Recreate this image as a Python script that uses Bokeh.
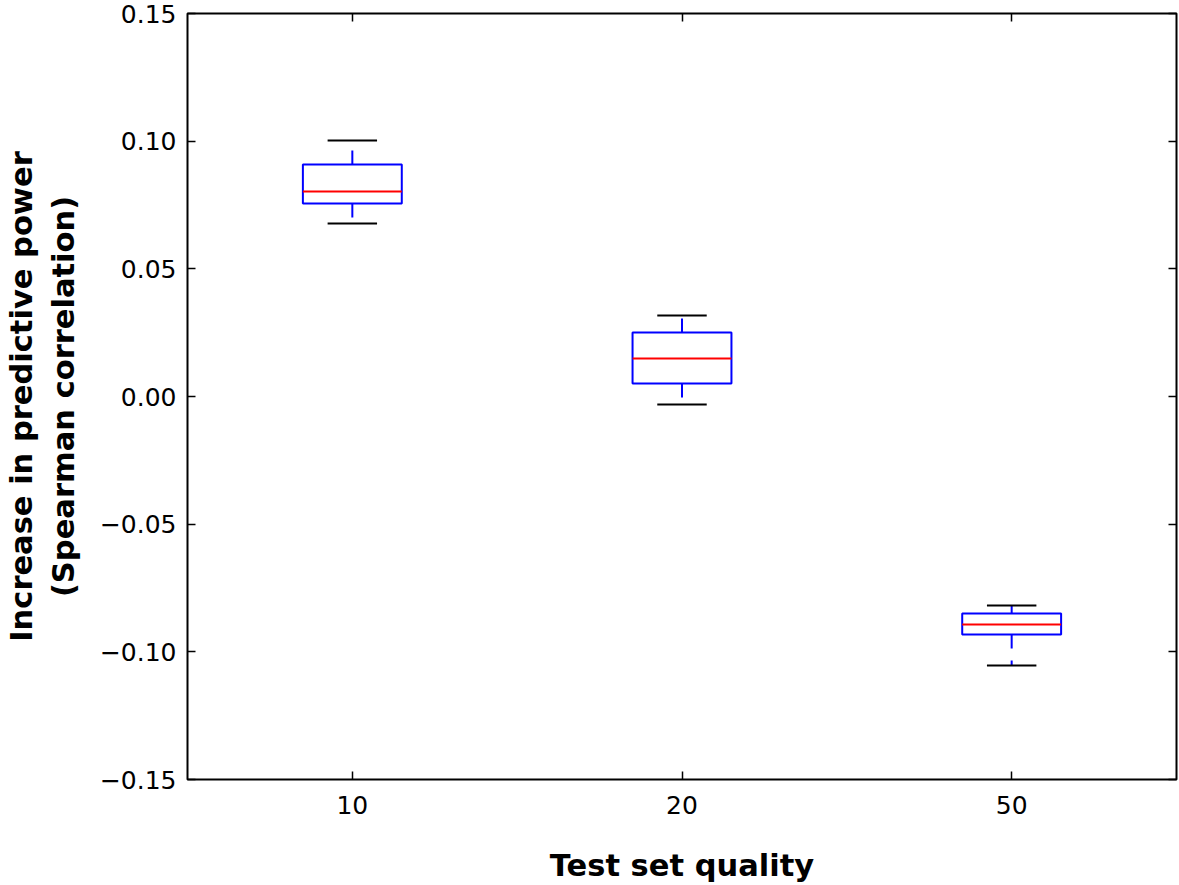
from bokeh.plotting import figure
from bokeh.models import FixedTicker, LinearAxis, Range1d, ColumnDataSource
from bokeh.embed import file_html
from bokeh.resources import INLINE

# Data
categories = ["10", "20", "50"]
positions = [1, 2, 3]
whisker_low = [0.0678, -0.0031, -0.1054]
q1 = [0.0756, 0.0051, -0.0932]
median = [0.0803, 0.0149, -0.0893]
q3 = [0.0909, 0.0251, -0.0850]
whisker_high = [0.1003, 0.0317, -0.0819]
y_ticks = [-0.15, -0.10, -0.05, 0.0, 0.05, 0.10, 0.15]

box_w = 0.3
cap_w = 0.15

src = ColumnDataSource(dict(
    x=positions,
    left=[p - box_w / 2 for p in positions],
    right=[p + box_w / 2 for p in positions],
    cl=[p - cap_w / 2 for p in positions],
    cr=[p + cap_w / 2 for p in positions],
    lo=whisker_low, q1=q1, med=median, q3=q3, hi=whisker_high,
))

p = figure(width=1179, height=885, output_backend="svg", toolbar_location=None,
           x_range=Range1d(0.5, 3.5), y_range=Range1d(-0.15, 0.15),
           min_border_left=187, min_border_right=3, min_border_top=13, min_border_bottom=106)
p.grid.visible = False
p.outline_line_color = "black"
p.outline_line_width = 2
p.background_fill_color = "white"

FONT = "DejaVu Sans"

# whiskers (dashed, from box edge outwards)
p.segment(x0="x", y0="q3", x1="x", y1="hi", source=src, line_color="#0000ff",
          line_width=2, line_dash="14 12")
p.segment(x0="x", y0="q1", x1="x", y1="lo", source=src, line_color="#0000ff",
          line_width=2, line_dash="14 12")
# caps
p.segment(x0="cl", y0="hi", x1="cr", y1="hi", source=src, line_color="black", line_width=2)
p.segment(x0="cl", y0="lo", x1="cr", y1="lo", source=src, line_color="black", line_width=2)
# boxes
p.quad(left="left", right="right", bottom="q1", top="q3", source=src,
       fill_color=None, line_color="#0000ff", line_width=2)
# medians
p.segment(x0="left", y0="med", x1="right", y1="med", source=src, line_color="#ff0000", line_width=2)

# axes styling
xa = p.xaxis[0]
xa.ticker = FixedTicker(ticks=positions)
xa.major_label_overrides = {pos: c for pos, c in zip(positions, categories)}
ya = p.yaxis[0]
ya.ticker = FixedTicker(ticks=y_ticks)
ya.major_label_overrides = {t: ("%.2f" % t).replace("-", "\u2212") for t in y_ticks}
ya.major_label_overrides[0.0] = "0.00"

for ax in (xa, ya):
    ax.axis_line_color = None
    ax.major_tick_in = 8
    ax.major_tick_out = 0
    ax.major_tick_line_width = 1.5
    ax.minor_tick_line_color = None
    ax.major_label_text_font = FONT
    ax.major_label_text_font_size = "25px"
    ax.major_label_text_color = "black"
    ax.axis_label_text_font = FONT
    ax.axis_label_text_font_style = "bold"
    ax.axis_label_text_font_size = "30.5px"
    ax.axis_label_text_color = "black"

xa.axis_label = "Test set quality"
xa.major_label_standoff = 16
xa.axis_label_standoff = 31
ya.axis_label = "Increase in predictive power\n(Spearman correlation)"
ya.major_label_standoff = 11
ya.axis_label_standoff = 16

# mirrored ticks on top and right (no labels)
top = LinearAxis(ticker=FixedTicker(ticks=positions),
                 major_label_overrides={t: "" for t in positions},
                 axis_line_color=None, major_tick_in=8, major_tick_out=0,
                 major_tick_line_width=1.5, minor_tick_line_color=None,
                 major_label_standoff=0)
right = LinearAxis(ticker=FixedTicker(ticks=y_ticks),
                   major_label_overrides={t: "" for t in y_ticks},
                   axis_line_color=None, major_tick_in=8, major_tick_out=0,
                   major_tick_line_width=1.5, minor_tick_line_color=None,
                   major_label_standoff=0)
p.add_layout(top, "above")
p.add_layout(right, "right")

open("out.html", "w").write(file_html(p, INLINE))
